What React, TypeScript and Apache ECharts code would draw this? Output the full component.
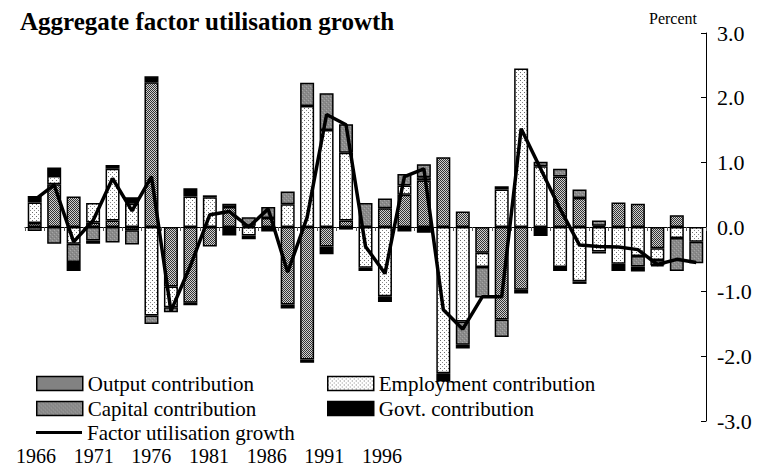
import React, { useEffect, useRef } from "react";
import * as echarts from "echarts";

const years = [
  "1966", "1967", "1968", "1969", "1970", "1971", "1972", "1973", "1974", "1975",
  "1976", "1977", "1978", "1979", "1980", "1981", "1982", "1983", "1984", "1985",
  "1986", "1987", "1988", "1989", "1990", "1991", "1992", "1993", "1994", "1995",
  "1996", "1997", "1998", "1999", "2000",
];

const outputContribution = [
  0.06, 0.66, 0.47, 0.07, 0.10, -0.05, 2.24, -0.92, -1.17, -0.30,
  0.31, 0.02, 0.14, -1.20, -2.05, -0.30, 0.10, 0.0, 0.29, 0.50,
  0.72, 1.08, 0.24, -0.40, -1.43, -0.97, 0.0, 0.78, 0.45, 0.02,
  0.38, 0.36, -0.33, 0.18, 0.0,
];

const employmentContribution = [
  0.32, 0.13, -0.26, 0.30, 0.80, 0.36, -1.37, -0.32, 0.47, 0.46,
  0.0, -0.13, 0.0, 0.35, 1.87, 1.50, 1.05, -0.63, -1.07, 0.14,
  0.05, -2.26, -1.46, -0.22, 0.58, 2.45, 0.94, -0.62, -0.84, -0.38,
  -0.57, -0.45, -0.18, -0.17, -0.23,
];

const capitalContribution = [
  -0.06, -0.26, -0.28, -0.21, -0.24, -0.22, -0.13, -0.08, -0.04, 0.0,
  0.05, 0.13, 0.17, 0.20, 0.36, 0.57, 0.44, 0.37, 0.15, 0.18,
  0.20, 0.0, -0.36, -0.47, -0.27, 0.0, 0.07, 0.12, 0.13, 0.08,
  0.0, -0.16, -0.08, -0.51, -0.33,
];

const govtContribution = [
  0.10, 0.13, -0.14, -0.05, 0.06, 0.10, 0.09, 0.0, 0.13, 0.03,
  -0.13, -0.06, -0.07, -0.06, -0.05, -0.12, -0.04, -0.05, -0.09, -0.07,
  -0.09, -0.13, -0.06, 0.0, 0.05, -0.06, -0.14, -0.06, -0.04, -0.03,
  -0.11, -0.08, -0.02, 0.0, 0.0,
];

const factorUtilisationGrowth = [
  0.42, 0.65, -0.23, 0.10, 0.75, 0.25, 0.78, -1.30, -0.60, 0.19,
  0.24, 0.0, 0.28, -0.70, 0.15, 1.74, 1.58, -0.30, -0.72, 0.78,
  0.90, -1.28, -1.58, -1.08, -1.08, 1.52, 0.90, 0.28, -0.28, -0.30,
  -0.31, -0.35, -0.58, -0.50, -0.55,
];

const yearTickLabels = [1966, 1971, 1976, 1981, 1986, 1991, 1996];
const yTicks = { min: -3, max: 3, interval: 1 };

const FONT = "Liberation Serif";

function makePattern(size: number, fill: string, dots: Array<[number, number, string]>) {
  const c = document.createElement("canvas");
  c.width = size;
  c.height = size;
  const ctx = c.getContext("2d")!;
  ctx.fillStyle = fill;
  ctx.fillRect(0, 0, size, size);
  dots.forEach(([x, y, col]) => {
    ctx.fillStyle = col;
    ctx.fillRect(x, y, 1, 1);
  });
  return {
    image: c.toDataURL(),
    repeat: "repeat",
    imageWidth: size,
    imageHeight: size,
  } as any;
}

export default function App() {
  const ref = useRef<HTMLDivElement>(null);

  useEffect(() => {
    if (!ref.current) return;
    const chart = echarts.init(ref.current, null, { renderer: "svg" });

    const outputPat = makePattern(4, "#d0d0d0", [
      [0, 0, "#333333"], [2, 0, "#333333"], [1, 1, "#333333"], [3, 1, "#333333"],
      [0, 2, "#333333"], [2, 2, "#333333"], [1, 3, "#333333"], [3, 3, "#333333"],
    ]);
    const capitalPat = makePattern(4, "#8a8a8a", [
      [0, 0, "#a6a6a6"], [2, 2, "#a6a6a6"], [1, 3, "#7a7a7a"], [3, 1, "#7a7a7a"],
    ]);
    const employmentPat = makePattern(4, "#ffffff", [
      [0, 0, "#6a6a6a"], [2, 2, "#8a8a8a"],
    ]);

    const clean = (arr: number[]) => arr.map((v) => (v === 0 ? null : v));

    const barBase = {
      type: "bar",
      stack: "total",
      barWidth: 14,
      xAxisIndex: 0,
      yAxisIndex: 0,
    };

    const legendText = { fontFamily: FONT, fontSize: 21, lineHeight: 19, color: "#000" };
    const legendBox = {
      orient: "vertical",
      top: 373,
      padding: 0,
      itemWidth: 46,
      itemHeight: 14,
      itemGap: 4,
      icon: "rect",
      itemStyle: { borderColor: "#000", borderWidth: 1.5 },
      textStyle: legendText,
      selectedMode: false,
    };

    chart.setOption({
      animation: false,
      backgroundColor: "#ffffff",
      title: [
        {
          text: "Aggregate factor utilisation growth",
          left: 20,
          top: 9,
          padding: 0,
          textStyle: { fontFamily: FONT, fontSize: 25, fontWeight: "bold", color: "#000" },
        },
        {
          text: "Percent",
          right: 70,
          top: 10,
          padding: 0,
          textStyle: { fontFamily: FONT, fontSize: 16, fontWeight: "normal", color: "#000" },
        },
      ],
      grid: { left: 25, right: 61, top: 33, bottom: 48, containLabel: false },
      legend: [
        {
          ...legendBox,
          data: ["Output contribution", "Capital contribution"],
          left: 36,
        },
        {
          ...legendBox,
          data: ["Employment contribution", "Govt. contribution"],
          left: 327,
        },
        {
          data: [{ name: "Factor utilisation growth", icon: "rect" }],
          orient: "vertical",
          left: 36,
          top: 422,
          padding: 0,
          itemWidth: 46,
          itemHeight: 3,
          itemStyle: { borderWidth: 0 },
          textStyle: legendText,
          selectedMode: false,
        },
      ],
      xAxis: [
        {
          type: "category",
          data: years,
          axisLine: { onZero: true, lineStyle: { color: "#000", width: 1 } },
          axisTick: { show: true, interval: 0, length: 4, lineStyle: { color: "#555" } },
          axisLabel: { show: false },
          splitLine: { show: false },
        },
        {
          type: "value",
          position: "bottom",
          min: 1965.046,
          max: 2024.09,
          axisLine: { show: false, onZero: false },
          axisTick: { show: false },
          splitLine: { show: false },
          axisLabel: {
            customValues: yearTickLabels,
            formatter: (v: number) => String(Math.round(v)),
            margin: 26,
            lineHeight: 18,
            fontFamily: FONT,
            fontSize: 20,
            color: "#000",
          },
        },
      ],
      yAxis: {
        type: "value",
        position: "right",
        min: yTicks.min,
        max: yTicks.max,
        interval: yTicks.interval,
        axisLine: { show: true, lineStyle: { color: "#000", width: 1 } },
        axisTick: { show: true, inside: true, length: 5, lineStyle: { color: "#000" } },
        axisLabel: {
          formatter: (v: number) => v.toFixed(1),
          margin: 11,
          fontFamily: FONT,
          fontSize: 22,
          color: "#000",
        },
        splitLine: { show: false },
      },
      series: [
        {
          ...barBase,
          name: "Output contribution",
          data: clean(outputContribution),
          itemStyle: { color: outputPat, borderColor: "#000", borderWidth: 1.5 },
        },
        {
          ...barBase,
          name: "Employment contribution",
          data: clean(employmentContribution),
          itemStyle: { color: employmentPat, borderColor: "#000", borderWidth: 1.5 },
        },
        {
          ...barBase,
          name: "Capital contribution",
          data: clean(capitalContribution),
          itemStyle: { color: capitalPat, borderColor: "#000", borderWidth: 1.5 },
        },
        {
          ...barBase,
          name: "Govt. contribution",
          data: clean(govtContribution),
          itemStyle: { color: "#000", borderColor: "#000", borderWidth: 1.5 },
        },
        {
          type: "line",
          name: "Factor utilisation growth",
          data: factorUtilisationGrowth,
          xAxisIndex: 0,
          yAxisIndex: 0,
          symbol: "none",
          showSymbol: false,
          z: 10,
          lineStyle: { color: "#000", width: 3.5 },
          itemStyle: { color: "#000" },
        },
      ],
    });

    return () => chart.dispose();
  }, []);

  return (
    <div
      ref={ref}
      style={{ position: "fixed", left: 0, top: 0, width: 767, height: 469, background: "#fff" }}
    />
  );
}
